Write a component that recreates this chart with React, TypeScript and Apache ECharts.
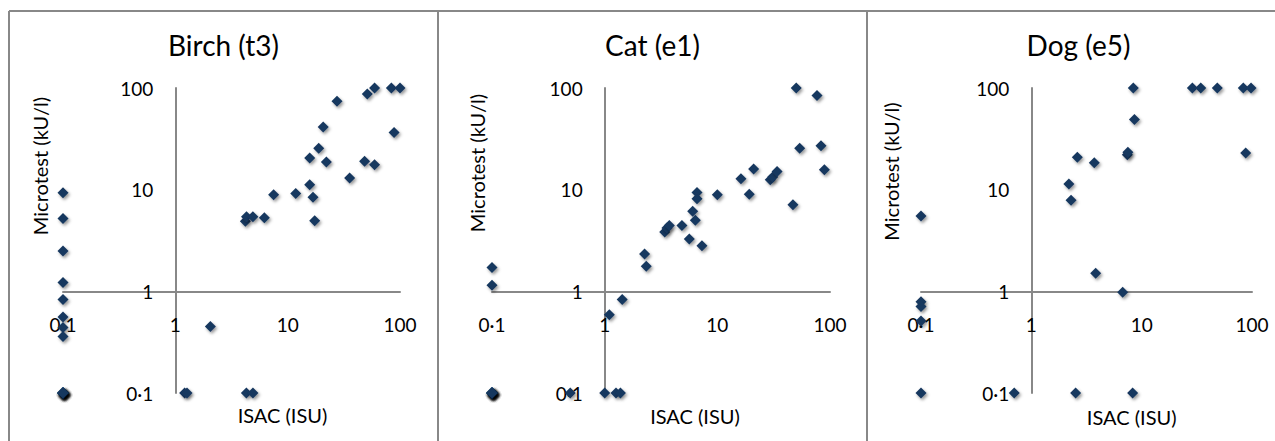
import React, { useEffect, useRef } from 'react';
import * as echarts from 'echarts';

const tickValues = [0.1, 1, 10, 100];
const panelTitles = ['Birch (t3)', 'Cat (e1)', 'Dog (e5)'];
const xAxisTitle = 'ISAC (ISU)';
const yAxisTitle = 'Microtest (kU/l)';

const birchIsac = [
  0.1, 0.1, 0.1, 0.1, 0.1, 0.1, 0.1, 0.1,
  0.1, 0.1, 0.1, 0.1, 0.1, 0.1, 0.1, 0.1, 0.1, 0.1, 0.1, 0.1,
  2.05, 1.21, 1.27, 4.29, 4.91, 4.2, 4.3, 4.9, 6.2, 7.5, 11.8, 15.7, 16.8, 17.4,
  15.7, 18.9, 20.7, 22.1, 27.5, 35.6, 48.4, 59.4, 51.2, 59.4, 83.8, 100, 88.5,
];
const birchMicrotest = [
  9.3, 5.2, 2.5, 1.22, 0.83, 0.56, 0.44, 0.36,
  0.1, 0.1, 0.1, 0.1, 0.1, 0.1, 0.1, 0.1, 0.1, 0.1, 0.1, 0.1,
  0.45, 0.1, 0.1, 0.1, 0.1, 4.9, 5.4, 5.4, 5.3, 8.9, 9.15, 11.2, 8.4, 4.95,
  20.5, 25.5, 41.3, 18.7, 74, 13.0, 19.0, 17.6, 87.3, 100, 100, 100, 36.6,
];

const catIsac = [
  0.1, 0.1,
  0.1, 0.1, 0.1, 0.1, 0.1, 0.1, 0.1, 0.1, 0.1, 0.1, 0.1, 0.1,
  0.495, 1, 1.26, 1.38, 1.1, 1.43, 2.26, 2.34, 3.41, 3.57, 3.75, 4.85, 5.64,
  6.04, 6.38, 6.6, 6.6, 7.3, 10, 16.2, 19.2, 21.0, 29.5, 31, 33.9, 46.9, 50.2,
  53.8, 76.7, 83.2, 89.1,
];
const catMicrotest = [
  1.72, 1.15,
  0.1, 0.1, 0.1, 0.1, 0.1, 0.1, 0.1, 0.1, 0.1, 0.1, 0.1, 0.1,
  0.1, 0.1, 0.1, 0.1, 0.59, 0.83, 2.33, 1.76, 3.84, 4.2, 4.43, 4.43, 3.27,
  6.12, 4.99, 9.4, 8.15, 2.81, 8.9, 12.8, 9.0, 16.0, 12.5, 13.3, 15.1, 7.1, 100,
  25.5, 84.2, 27.1, 15.7,
];

const dogIsac = [
  0.1, 0.1, 0.1, 0.1, 0.1,
  0.7, 2.52, 8.28, 2.19, 2.29, 2.61, 3.72, 3.83, 6.73, 7.41, 7.5, 8.4, 8.6,
  28.8, 34.3, 48.5, 83.4, 98, 87.7,
];
const dogMicrotest = [
  5.5, 0.79, 0.71, 0.51, 0.1,
  0.1, 0.1, 0.1, 11.4, 7.85, 20.8, 18.4, 1.51, 0.98, 22.1, 23.3, 100, 48.9,
  100, 100, 100, 100, 100, 23.0,
];

const panelX = [birchIsac, catIsac, dogIsac];
const panelY = [birchMicrotest, catMicrotest, dogMicrotest];

const FONT = 'Lato, "Open Sans", sans-serif';
const GRAY = '#888888';
const NAVY = '#17375e';

const grids = [
  { left: 63, top: 88, width: 337, height: 305 },
  { left: 492, top: 88, width: 338, height: 305 },
  { left: 921, top: 88, width: 331, height: 305 },
];
const titlePos = [
  [223.5, 45],
  [652.5, 45],
  [1078.5, 45],
];
const yTitlePos = [
  [40, 166],
  [476.7, 163],
  [890.7, 171.5],
];
const xTitlePos = [
  [282.5, 415],
  [695, 416],
  [1131.7, 416.7],
];

function fmt(v: number): string {
  if (v < 0.5) return '0\u00b71';
  return String(Math.round(v));
}

export default function App() {
  const ref = useRef<HTMLDivElement>(null);
  useEffect(() => {
    if (!ref.current) return;
    const chart = echarts.init(ref.current, undefined, { renderer: 'svg' });
    const xAxes: any[] = [];
    const yAxes: any[] = [];
    const series: any[] = [];
    const graphics: any[] = [];
    grids.forEach((g, i) => {
      xAxes.push({
        type: 'log',
        logBase: 10,
        gridIndex: i,
        min: tickValues[0],
        max: tickValues[tickValues.length - 1],
        position: 'bottom',
        offset: -g.height / 3,
        axisLine: { show: true, onZero: false, lineStyle: { color: GRAY, width: 2 } },
        axisTick: { show: false },
        splitLine: { show: false },
        minorTick: { show: false },
        axisLabel: {
          formatter: fmt,
          margin: 24,
          color: '#000',
          fontFamily: FONT,
          fontSize: 19,
          showMinLabel: true,
          showMaxLabel: true,
        },
      });
      yAxes.push({
        type: 'log',
        logBase: 10,
        gridIndex: i,
        min: tickValues[0],
        max: tickValues[tickValues.length - 1],
        position: 'left',
        offset: -g.width / 3,
        axisLine: { show: true, onZero: false, lineStyle: { color: GRAY, width: 2 } },
        axisTick: { show: false },
        splitLine: { show: false },
        minorTick: { show: false },
        axisLabel: {
          formatter: fmt,
          margin: 22,
          color: '#000',
          fontFamily: FONT,
          fontSize: 19,
          showMinLabel: true,
          showMaxLabel: true,
        },
      });
      series.push({
        type: 'scatter',
        xAxisIndex: i,
        yAxisIndex: i,
        symbol: 'diamond',
        symbolSize: 11,
        itemStyle: {
          color: NAVY,
          opacity: 1,
          shadowColor: 'rgba(0,0,0,0.4)',
          shadowBlur: 3,
          shadowOffsetX: 1.5,
          shadowOffsetY: 2,
        },
        data: panelX[i].map((x, k) => [x, panelY[i][k]]),
      });
      graphics.push({
        type: 'text',
        x: titlePos[i][0],
        y: titlePos[i][1],
        style: {
          text: panelTitles[i],
          fontFamily: FONT,
          fontSize: 28,
          fill: '#000',
          textAlign: 'center',
          textVerticalAlign: 'middle',
        },
      });
      graphics.push({
        type: 'text',
        x: yTitlePos[i][0],
        y: yTitlePos[i][1],
        rotation: Math.PI / 2,
        style: {
          text: yAxisTitle,
          fontFamily: FONT,
          fontSize: 20,
          fill: '#000',
          textAlign: 'center',
          textVerticalAlign: 'middle',
        },
      });
      graphics.push({
        type: 'text',
        x: xTitlePos[i][0],
        y: xTitlePos[i][1],
        style: {
          text: xAxisTitle,
          fontFamily: FONT,
          fontSize: 20,
          fill: '#000',
          textAlign: 'center',
          textVerticalAlign: 'middle',
        },
      });
    });
    const borderStyle = { stroke: GRAY, lineWidth: 2 };
    graphics.push({ type: 'line', shape: { x1: 9, y1: 11, x2: 1275, y2: 11 }, style: borderStyle });
    [9, 438, 867].forEach((x) => {
      graphics.push({ type: 'line', shape: { x1: x, y1: 11, x2: x, y2: 441 }, style: borderStyle });
    });

    chart.setOption({
      animation: false,
      backgroundColor: '#ffffff',
      grid: grids.map((g) => ({ ...g, containLabel: false })),
      xAxis: xAxes,
      yAxis: yAxes,
      series,
      graphic: graphics,
    });
    return () => chart.dispose();
  }, []);
  return (
    <div
      ref={ref}
      style={{ position: 'absolute', left: 0, top: 0, width: 1275, height: 441 }}
    />
  );
}
